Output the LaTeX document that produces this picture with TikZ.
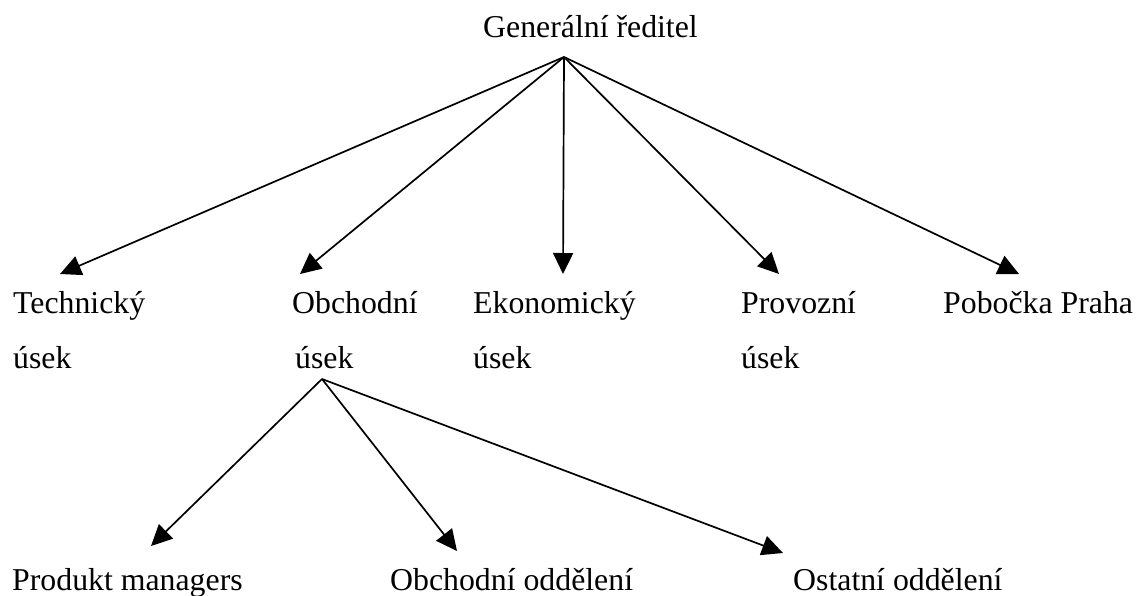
\documentclass[tikz,border=0pt]{standalone}
\usepackage{fontspec}
\setmainfont{Liberation Serif}
\usetikzlibrary{arrows.meta}
\tikzset{
  lbl/.style={anchor=base west, inner sep=0pt, font=\fontsize{31.8}{38}\selectfont},
  conn/.style={line width=1.7pt, -{Triangle[length=21pt,width=20pt]}}
}
\begin{document}
\begin{tikzpicture}[x=1pt,y=-1pt]
\useasboundingbox (0,0) rectangle (1139,595);
% labels
\node[lbl] (gd) at (483,37) {Generální ředitel};
\node[lbl] (tech) at (13,313) {Technický};
\node[lbl] (techb) at (13,368) {úsek};
\node[lbl] (obch) at (292,313) {Obchodní};
\node[lbl] (obchb) at (295,368) {úsek};
\node[lbl] (eko) at (473,313) {Ekonomický};
\node[lbl] (ekob) at (473,368) {úsek};
\node[lbl] (prov) at (741,313) {Provozní};
\node[lbl] (provb) at (741,368) {úsek};
\node[lbl] (pob) at (943,313) {Pobočka Praha};
\node[lbl] (pm) at (12,590) {Produkt managers};
\node[lbl] (oo) at (390,590) {Obchodní oddělení};
\node[lbl] (ost) at (793,590) {Ostatní oddělení};
% connector points
\coordinate (gdp) at (564,57);
\coordinate (techp) at (60,274);
\coordinate (obchp) at (300,274);
\coordinate (ekop) at (563,274);
\coordinate (provp) at (779,274);
\coordinate (pobp) at (1019,274);
\coordinate (obp) at (322,379);
\coordinate (pmp) at (151,546);
\coordinate (oop) at (457,551);
\coordinate (ostp) at (783,553);
% connectors
\draw[conn] (gdp) -- (techp);
\draw[conn] (gdp) -- (obchp);
\draw[conn] (gdp) -- (ekop);
\draw[conn] (gdp) -- (provp);
\draw[conn] (gdp) -- (pobp);
\draw[conn] (obp) -- (pmp);
\draw[conn] (obp) -- (oop);
\draw[conn] (obp) -- (ostp);
\end{tikzpicture}
\end{document}
